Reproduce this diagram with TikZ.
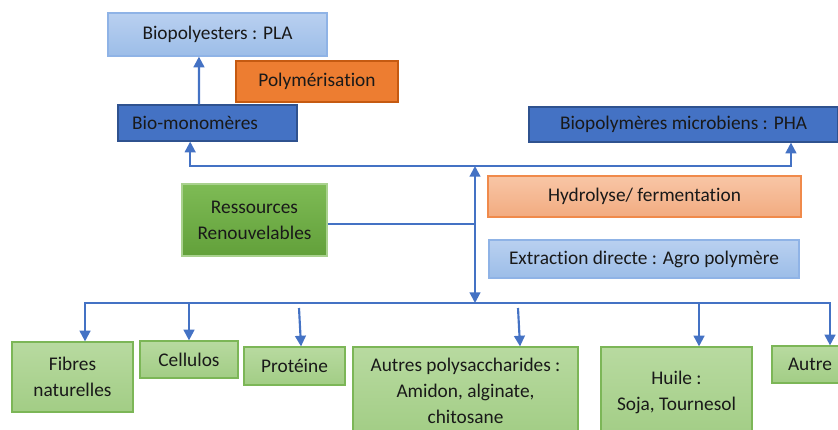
\documentclass[tikz,border=0pt]{standalone}
\usepackage{fontspec}
\setmainfont[Ligatures=CommonOff]{Carlito}
\usetikzlibrary{arrows.meta}

\definecolor{linkblue}{HTML}{4472C4}
\definecolor{darkblue}{HTML}{2F528F}
\definecolor{paleblueA}{HTML}{B9D0F0}
\definecolor{paleblueB}{HTML}{9CBDE8}
\definecolor{paleblueline}{HTML}{8FB3E6}
\definecolor{orangeA}{HTML}{ED7D31}
\definecolor{orangeline}{HTML}{C55A11}
\definecolor{peachA}{HTML}{F8C6A6}
\definecolor{peachB}{HTML}{F2AB80}
\definecolor{peachline}{HTML}{F08A4B}
\definecolor{greenA}{HTML}{7EBB55}
\definecolor{greenB}{HTML}{62A03A}
\definecolor{greenline}{HTML}{A9D18E}
\definecolor{leafA}{HTML}{B8DAA0}
\definecolor{leafB}{HTML}{A2CD85}
\definecolor{leafline}{HTML}{7CB657}

\tikzset{
  box/.style={line width=0.9pt, inner sep=2pt, align=center,
    font=\fontsize{14.5}{19.5}\selectfont, text=black!90},
  size/.style 2 args={minimum width=#1*0.75pt, minimum height=#2*0.75pt},
  paleblue/.style={box, draw=paleblueline, top color=paleblueA, bottom color=paleblueB},
  deepblue/.style={box, draw=darkblue, fill=linkblue},
  orangebox/.style={box, draw=orangeline, fill=orangeA},
  peachbox/.style={box, draw=peachline, top color=peachA, bottom color=peachB},
  greenbox/.style={box, draw=greenline, top color=greenA, bottom color=greenB},
  leafbox/.style={box, draw=leafline, top color=leafA, bottom color=leafB},
  tip/.tip={Triangle[length=8pt,width=8pt]},
  flow/.style={draw=linkblue, line width=1.6pt, -tip},
  link/.style={draw=linkblue, line width=1.6pt},
}

\begin{document}
\begin{tikzpicture}[x=0.75pt, y=-0.75pt]
  \useasboundingbox (0,0) rectangle (838,429);
  \clip (0,0) rectangle (838,429);

  % Upper products
  \node[paleblue, size={219}{43}] (pla) at (217.5,34.5) {Biopolyesters : PLA};
  \node[orangebox, size={162}{41}] (poly) at (317,81.5) {Polymérisation};
  \node[deepblue, size={179}{36}, text width=113pt, align=left, inner xsep=10.5pt]
    (mono) at (207.5,123) {Bio-monomères};
  \node[deepblue, size={309}{35}] (pha) at (683.5,124.5) {Biopolymères microbiens : PHA};

  % Processes
  \node[peachbox, size={313}{41}] (hydro) at (644.5,196.5) {Hydrolyse/ fermentation};
  \node[paleblue, size={310}{38}] (extr) at (644,259) {Extraction directe : Agro polymère};
  \node[greenbox, size={145}{72}] (res) at (254.5,220) {Ressources\\Renouvelables};

  % Resources
  \node[leafbox, size={121}{70}] (fib) at (72.5,377) {Fibres\\naturelles};
  \node[leafbox, size={98}{37}] (cel) at (189,359.5) {Cellulos};
  \node[leafbox, size={101}{38}] (prot) at (294.5,366) {Protéine};
  \node[leafbox, size={225}{88}] (poly2) at (465.5,391)
    {Autres polysaccharides :\\Amidon, alginate,\\chitosane};
  \node[leafbox, size={151}{91}] (oil) at (676.5,392.5) {Huile :\\Soja, Tournesol};
  \node[leafbox, size={76}{37}] (other) at (810,364.5) {Autre};

  % Connectors
  \coordinate (hub) at (475,166);
  \coordinate (base) at (475,303);
  \coordinate (p0) at (299,308);
  \coordinate (q0) at (518,308);

  \draw[link] (res.east |- 0,224) -- (475,224);
  \draw[flow, tip-tip] (hub) -- (base);
  \draw[flow] (hub) -| ([xshift=-13pt]mono.south);
  \draw[flow] (hub) -| ([xshift=80.6pt]pha.south);
  \draw[flow] (mono.north -| 199,0) -- ([xshift=-13.9pt]pla.south);

  \draw[flow] (base) -| ([xshift=9.4pt]fib.north);
  \draw[flow] (base) -| (cel.north);
  \draw[flow] (base) -| ([xshift=16.9pt]oil.north);
  \draw[flow] (base) -| ([xshift=15pt]other.north);
  \draw[flow] (p0) -- ([xshift=4.9pt]prot.north);
  \draw[flow] (q0) -- ([xshift=40.9pt]poly2.north);
\end{tikzpicture}
\end{document}
